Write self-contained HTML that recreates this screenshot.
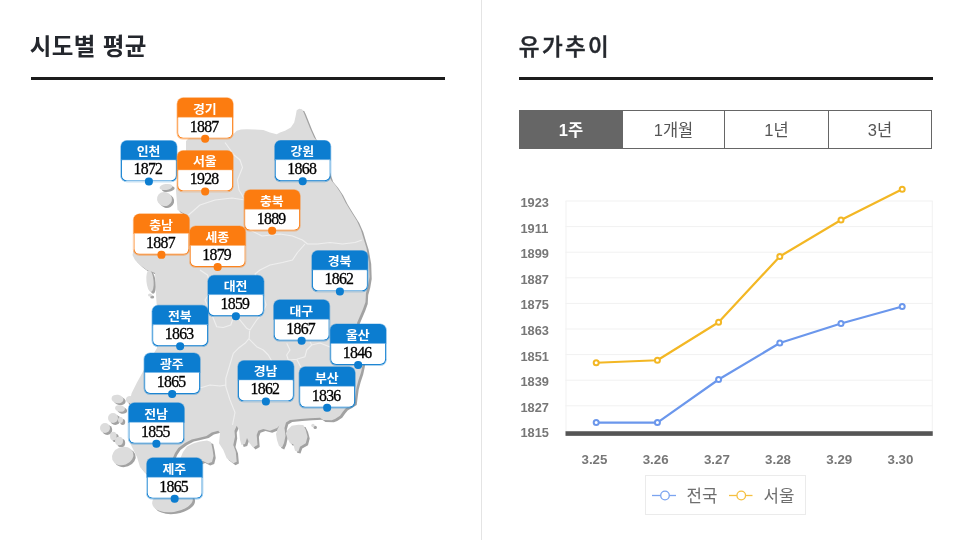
<!DOCTYPE html><html lang="ko"><head><meta charset="utf-8"><title>시도별 평균 / 유가추이</title><style>
*{margin:0;padding:0;box-sizing:border-box}
html,body{width:962px;height:540px;background:#fff;overflow:hidden}
body{position:relative;font-family:"Liberation Sans","Noto Sans CJK KR",sans-serif;color:#222}
.h{position:absolute;top:31px;font-size:23.5px;line-height:32px;color:#24272d;white-space:nowrap;letter-spacing:0.4px}
.h1{left:29.8px;font-weight:700}
.h2{left:518.8px;top:31.8px;font-weight:500;font-size:22.5px;letter-spacing:2.4px;-webkit-text-stroke:0.45px #24272d}
.ul{position:absolute;top:77px;height:3px;background:#1c1c1c}
.div{position:absolute;left:481px;top:0;width:1px;height:540px;background:#e4e4e4}
.tabs{position:absolute;left:519px;top:110px;width:413px;height:39px;border:1px solid #666;display:flex;background:#fff}
.tabs div{flex:0 0 auto;text-align:center;font-size:16.5px;line-height:39.4px;height:37px;color:#555;border-left:1px solid #666}
.tabs div:first-child{border-left:0;background:#666;color:#fff;font-weight:700}
.lb{position:absolute;left:0;top:0;width:56px;height:41px;border-radius:6px}
.lb .t{position:absolute;left:0;top:0;width:56px;height:19.5px;border-radius:6px 6px 0 0;color:#fff;font-weight:700;font-size:12.2px;line-height:20px;text-align:center}
.lb .t span{display:inline-block;transform:translate(-0.6px,1.85px) scaleX(1.06)}
.lb .n{position:absolute;left:0;top:19px;width:56px;height:22px;border-radius:0 0 6px 6px;border:1.6px solid;border-top:1px solid;background:#fff;color:#000;font-family:"Liberation Serif",serif;font-size:15.8px;line-height:18px;text-align:center;letter-spacing:-0.7px;-webkit-text-stroke:0.3px #000}
.lb .n span{display:inline-block;transform:translate(-1.0px,0.05px)}
.lb .d{position:absolute;left:24.3px;top:37.4px;width:7.4px;height:7.4px;border-radius:50%}
.o{box-shadow:0 0.3px 0 0.6px rgba(252,124,16,.45)}.b{box-shadow:0 0.3px 0 0.6px rgba(12,125,208,.45)}
.o .t,.o .d{background:#fc7c10}.o .n{border-color:#fdb77a #fc7c10 #fc7c10}
.b .t,.b .d{background:#0c7dd0}.b .n{border-color:#7db9e6 #0c7dd0 #0c7dd0}
svg{position:absolute;left:0;top:0}
svg text{font-family:"Liberation Sans","Noto Sans CJK KR",sans-serif}
</style></head><body>
<div class="h h1">시도별 평균</div><div class="ul" style="left:31px;width:414px"></div>
<div class="h h2">유가추이</div><div class="ul" style="left:519px;width:414px"></div>
<div class="div"></div>
<div class="tabs"><div style="width:102px">1주</div><div style="width:102px">1개월</div><div style="width:104px">1년</div><div style="width:103px">3년</div></div>
<svg width="962" height="540" viewBox="0 0 962 540"><g id="map"><g fill="#a2a2a2" transform="translate(2.2,1.9)"><polygon points="186,150 186,141 189,138 200,136 220,137 231,137 233.5,134 236.7,130.8 241,129.6 246.7,129.2 255,129.4 263.3,130 270,132.5 276.7,134.2 280,132.5 285,130.8 290.8,127.5 294.2,122.5 295.5,116.7 296.7,110.3 299.2,108.7 302,109.2 303.7,112.5 306.7,120 310,128.3 314.2,137.5 316.7,140.8 322,152 327,168 331,180 336,186 341,193.5 345.5,202.5 351,211.5 357,221 361,230 364,240 366.5,248 369,262 369.5,277 368,286 366,293 365.5,302 363,309 360,316 357,323 362,340 364,355 362.5,365.5 361,372.5 358.5,380 356.5,387.5 355.5,395 354.5,403 345.5,408.5 343,411.5 340,415.8 335,419 331.7,420.3 323.3,420 320,417.8 310,418.3 300,419 290,420 286,422.5 284.5,428 285.5,436 284,443 282,447.5 279,446 277,440 276,434 277.5,429 279.5,425.5 277,428 270,430.8 263.3,429 258.3,430.8 256.7,435 257.5,445 253.3,447.5 249.5,443.3 247,438 245,444 241.5,445 240,440 239,430 236.7,425.8 234.5,430.8 235,436.7 233.3,445 235.8,451.7 236.7,461.7 233.3,463.3 226.7,458.3 223.3,450 219,443.3 220,433.3 218.3,430.8 211.7,432.5 206.5,436 198.3,438 191.7,439.5 185,443 178.3,448 175,453 172,460 168,466 160,470 150,475 145,473 140,467 137,457 130,443 130,400 131.7,393 136.7,383 145,368 157,348 157,330 156.7,305 156,295 155,273 150,271 146.7,270 140,265 135,260 132.5,255 136,240 140,225 150,216 170,214 188,215.5 183,213 177.5,210 176.5,197 176,190 180,170"/><ellipse cx="166" cy="187" rx="6.5" ry="3" transform="rotate(-8 166 187)"/><ellipse cx="164.5" cy="199" rx="7.5" ry="7" transform="rotate(15 164.5 199)"/><ellipse cx="150" cy="281" rx="3.6" ry="11" transform="rotate(-5 150 281)"/><ellipse cx="150" cy="295" rx="2" ry="1.5" transform="rotate(0 150 295)"/><ellipse cx="117.5" cy="399" rx="6" ry="4.2" transform="rotate(10 117.5 399)"/><ellipse cx="130" cy="399.5" rx="4" ry="3.5" transform="rotate(0 130 399.5)"/><ellipse cx="120" cy="408.5" rx="5" ry="3.3" transform="rotate(10 120 408.5)"/><ellipse cx="113" cy="418" rx="5" ry="5" transform="rotate(0 113 418)"/><ellipse cx="120.5" cy="420" rx="2.5" ry="3" transform="rotate(0 120.5 420)"/><ellipse cx="105" cy="428" rx="5" ry="5" transform="rotate(0 105 428)"/><ellipse cx="113.3" cy="436" rx="3.3" ry="4.2" transform="rotate(0 113.3 436)"/><ellipse cx="119" cy="441" rx="4" ry="4.2" transform="rotate(0 119 441)"/><ellipse cx="122.7" cy="456" rx="11" ry="9" transform="rotate(-20 122.7 456)"/><ellipse cx="172.5" cy="501" rx="20.5" ry="11" transform="rotate(-8 172.5 501)"/><polygon points="183,452 187,446.5 193,443.5 200,441.5 207,440.5 211,442 212.5,449 213.5,456 212,462 208,463.5 203,461 198,463 185,465 180,459"/><polygon points="287.5,430 291.7,425.8 298.3,424.7 303.3,425 305.8,430 307.5,436.7 305.8,443.3 300,446.7 298.3,451.7 295,450.8 293.3,444.2 290,443.3 287.5,438.3 285.8,433.3"/><circle cx="313" cy="425.5" r="1.7"/></g><g fill="#dcdcdc"><polygon points="186,150 186,141 189,138 200,136 220,137 231,137 233.5,134 236.7,130.8 241,129.6 246.7,129.2 255,129.4 263.3,130 270,132.5 276.7,134.2 280,132.5 285,130.8 290.8,127.5 294.2,122.5 295.5,116.7 296.7,110.3 299.2,108.7 302,109.2 303.7,112.5 306.7,120 310,128.3 314.2,137.5 316.7,140.8 322,152 327,168 331,180 336,186 341,193.5 345.5,202.5 351,211.5 357,221 361,230 364,240 366.5,248 369,262 369.5,277 368,286 366,293 365.5,302 363,309 360,316 357,323 362,340 364,355 362.5,365.5 361,372.5 358.5,380 356.5,387.5 355.5,395 354.5,403 345.5,408.5 343,411.5 340,415.8 335,419 331.7,420.3 323.3,420 320,417.8 310,418.3 300,419 290,420 286,422.5 284.5,428 285.5,436 284,443 282,447.5 279,446 277,440 276,434 277.5,429 279.5,425.5 277,428 270,430.8 263.3,429 258.3,430.8 256.7,435 257.5,445 253.3,447.5 249.5,443.3 247,438 245,444 241.5,445 240,440 239,430 236.7,425.8 234.5,430.8 235,436.7 233.3,445 235.8,451.7 236.7,461.7 233.3,463.3 226.7,458.3 223.3,450 219,443.3 220,433.3 218.3,430.8 211.7,432.5 206.5,436 198.3,438 191.7,439.5 185,443 178.3,448 175,453 172,460 168,466 160,470 150,475 145,473 140,467 137,457 130,443 130,400 131.7,393 136.7,383 145,368 157,348 157,330 156.7,305 156,295 155,273 150,271 146.7,270 140,265 135,260 132.5,255 136,240 140,225 150,216 170,214 188,215.5 183,213 177.5,210 176.5,197 176,190 180,170"/><polygon points="183,452 187,446.5 193,443.5 200,441.5 207,440.5 211,442 212.5,449 213.5,456 212,462 208,463.5 203,461 198,463 185,465 180,459"/><polygon points="287.5,430 291.7,425.8 298.3,424.7 303.3,425 305.8,430 307.5,436.7 305.8,443.3 300,446.7 298.3,451.7 295,450.8 293.3,444.2 290,443.3 287.5,438.3 285.8,433.3"/><circle cx="313" cy="425.5" r="1.7"/><ellipse cx="166" cy="187" rx="6.5" ry="3" transform="rotate(-8 166 187)"/><ellipse cx="164.5" cy="199" rx="7.5" ry="7" transform="rotate(15 164.5 199)"/><ellipse cx="150" cy="281" rx="3.6" ry="11" transform="rotate(-5 150 281)"/><ellipse cx="150" cy="295" rx="2" ry="1.5" transform="rotate(0 150 295)"/><ellipse cx="117.5" cy="399" rx="6" ry="4.2" transform="rotate(10 117.5 399)"/><ellipse cx="130" cy="399.5" rx="4" ry="3.5" transform="rotate(0 130 399.5)"/><ellipse cx="120" cy="408.5" rx="5" ry="3.3" transform="rotate(10 120 408.5)"/><ellipse cx="113" cy="418" rx="5" ry="5" transform="rotate(0 113 418)"/><ellipse cx="120.5" cy="420" rx="2.5" ry="3" transform="rotate(0 120.5 420)"/><ellipse cx="105" cy="428" rx="5" ry="5" transform="rotate(0 105 428)"/><ellipse cx="113.3" cy="436" rx="3.3" ry="4.2" transform="rotate(0 113.3 436)"/><ellipse cx="119" cy="441" rx="4" ry="4.2" transform="rotate(0 119 441)"/><ellipse cx="122.7" cy="456" rx="11" ry="9" transform="rotate(-20 122.7 456)"/><ellipse cx="172.5" cy="501" rx="20.5" ry="11" transform="rotate(-8 172.5 501)"/></g><polyline points="225,142.5 234,155 240,160 242.5,167.5 237.5,180 239,190 245,200 250,215 250,230 262,236 280,234 292.5,236 302.5,240 307.5,244 317.5,244 330,242.5 342.5,244 355,242.5 362,240" fill="none" stroke="#efefef" stroke-width="1.1" stroke-linejoin="round"/><polyline points="305,244 297.5,252.5 292.5,260 282.5,262.5 270,265 260,270 255,274 262,290 266,305 262,314 256.7,320 253.3,325 250,330 246.7,328.3 240,320 236,316" fill="none" stroke="#efefef" stroke-width="1.1" stroke-linejoin="round"/><polyline points="213.3,318.3 216.7,326.7 223.3,327.5 230.8,325 232.5,320 236,316" fill="none" stroke="#efefef" stroke-width="1.1" stroke-linejoin="round"/><polyline points="249.6,330.8 249.2,338.3 245,343.3 238.3,348.3 233.3,353.3 230.8,361.7 228.3,370 225.8,378.3 225.8,386.7 230,400 235,412.5 232.5,425" fill="none" stroke="#efefef" stroke-width="1.1" stroke-linejoin="round"/><polyline points="157,388 175,392 197.5,388.75 210,385 220,386 226,385" fill="none" stroke="#efefef" stroke-width="1.1" stroke-linejoin="round"/><polyline points="249.2,339.2 256.7,346.7 263.3,350 268.3,355 271.7,361" fill="none" stroke="#efefef" stroke-width="1.1" stroke-linejoin="round"/><polyline points="286.7,343.3 290,350 286.7,355 288.3,360 296.7,359.2 305,356.7 306.7,350 311.7,345 310,341.7" fill="none" stroke="#efefef" stroke-width="1.1" stroke-linejoin="round"/><polyline points="296.7,359.2 300.8,367" fill="none" stroke="#efefef" stroke-width="1.1" stroke-linejoin="round"/><polyline points="311.7,345 320,343 330,347" fill="none" stroke="#efefef" stroke-width="1.1" stroke-linejoin="round"/><polyline points="200,270 207.5,275 212,290 205,300 213.3,318.3" fill="none" stroke="#efefef" stroke-width="1.1" stroke-linejoin="round"/><polyline points="188,215.5 200,205 215,200 232,198 245,200" fill="none" stroke="#efefef" stroke-width="1.1" stroke-linejoin="round"/></g><line x1="565.5" x2="932.75" y1="201.00" y2="201.00" stroke="#f1f1f1" stroke-width="1"/><line x1="565.5" x2="932.75" y1="226.60" y2="226.60" stroke="#f1f1f1" stroke-width="1"/><line x1="565.5" x2="932.75" y1="252.20" y2="252.20" stroke="#f1f1f1" stroke-width="1"/><line x1="565.5" x2="932.75" y1="277.80" y2="277.80" stroke="#f1f1f1" stroke-width="1"/><line x1="565.5" x2="932.75" y1="303.40" y2="303.40" stroke="#f1f1f1" stroke-width="1"/><line x1="565.5" x2="932.75" y1="329.00" y2="329.00" stroke="#f1f1f1" stroke-width="1"/><line x1="565.5" x2="932.75" y1="354.60" y2="354.60" stroke="#f1f1f1" stroke-width="1"/><line x1="565.5" x2="932.75" y1="380.20" y2="380.20" stroke="#f1f1f1" stroke-width="1"/><line x1="565.5" x2="932.75" y1="405.80" y2="405.80" stroke="#f1f1f1" stroke-width="1"/><line x1="565.5" x2="932.75" y1="431.40" y2="431.40" stroke="#f1f1f1" stroke-width="1"/><line x1="566.0" x2="566.0" y1="201.0" y2="432" stroke="#f1f1f1" stroke-width="1"/><line x1="932.25" x2="932.25" y1="201.0" y2="432" stroke="#f1f1f1" stroke-width="1"/><text x="520.5" y="207.00" font-size="12.8" font-weight="700" fill="#777">1923</text><text x="520.5" y="232.60" font-size="12.8" font-weight="700" fill="#777">1911</text><text x="520.5" y="258.20" font-size="12.8" font-weight="700" fill="#777">1899</text><text x="520.5" y="283.80" font-size="12.8" font-weight="700" fill="#777">1887</text><text x="520.5" y="309.40" font-size="12.8" font-weight="700" fill="#777">1875</text><text x="520.5" y="335.00" font-size="12.8" font-weight="700" fill="#777">1863</text><text x="520.5" y="360.60" font-size="12.8" font-weight="700" fill="#777">1851</text><text x="520.5" y="386.20" font-size="12.8" font-weight="700" fill="#777">1839</text><text x="520.5" y="411.80" font-size="12.8" font-weight="700" fill="#777">1827</text><text x="520.5" y="437.40" font-size="12.8" font-weight="700" fill="#777">1815</text><text x="594.45" y="464.3" font-size="13.3" font-weight="700" fill="#777" text-anchor="middle">3.25</text><text x="655.65" y="464.3" font-size="13.3" font-weight="700" fill="#777" text-anchor="middle">3.26</text><text x="716.85" y="464.3" font-size="13.3" font-weight="700" fill="#777" text-anchor="middle">3.27</text><text x="778.05" y="464.3" font-size="13.3" font-weight="700" fill="#777" text-anchor="middle">3.28</text><text x="839.25" y="464.3" font-size="13.3" font-weight="700" fill="#777" text-anchor="middle">3.29</text><text x="900.45" y="464.3" font-size="13.3" font-weight="700" fill="#777" text-anchor="middle">3.30</text><polyline points="596.20,422.6 657.40,422.6 718.60,379.5 779.80,343 841.00,323.5 902.20,306.5" fill="none" stroke="#6b97ec" stroke-width="2.2" stroke-linejoin="round"/><circle cx="596.20" cy="422.6" r="2.5" fill="#fff" stroke="#6b97ec" stroke-width="2"/><circle cx="657.40" cy="422.6" r="2.5" fill="#fff" stroke="#6b97ec" stroke-width="2"/><circle cx="718.60" cy="379.5" r="2.5" fill="#fff" stroke="#6b97ec" stroke-width="2"/><circle cx="779.80" cy="343" r="2.5" fill="#fff" stroke="#6b97ec" stroke-width="2"/><circle cx="841.00" cy="323.5" r="2.5" fill="#fff" stroke="#6b97ec" stroke-width="2"/><circle cx="902.20" cy="306.5" r="2.5" fill="#fff" stroke="#6b97ec" stroke-width="2"/><polyline points="596.20,362.75 657.40,360.25 718.60,322.25 779.80,256.5 841.00,220 902.20,189.25" fill="none" stroke="#f3b724" stroke-width="2.2" stroke-linejoin="round"/><circle cx="596.20" cy="362.75" r="2.5" fill="#fff" stroke="#f3b724" stroke-width="2"/><circle cx="657.40" cy="360.25" r="2.5" fill="#fff" stroke="#f3b724" stroke-width="2"/><circle cx="718.60" cy="322.25" r="2.5" fill="#fff" stroke="#f3b724" stroke-width="2"/><circle cx="779.80" cy="256.5" r="2.5" fill="#fff" stroke="#f3b724" stroke-width="2"/><circle cx="841.00" cy="220" r="2.5" fill="#fff" stroke="#f3b724" stroke-width="2"/><circle cx="902.20" cy="189.25" r="2.5" fill="#fff" stroke="#f3b724" stroke-width="2"/><rect x="565.5" y="431.25" width="367.25" height="4.6" fill="#555"/><rect x="645.5" y="475.5" width="160" height="39" fill="#fff" stroke="#ebebeb" stroke-width="1"/><line x1="652" x2="676" y1="495.5" y2="495.5" stroke="#7ba4f0" stroke-width="1.3"/><circle cx="665" cy="495.5" r="4.3" fill="#fff" stroke="#7ba4f0" stroke-width="1.3"/><text x="686.5" y="501.5" font-size="16.8" fill="#6e6e6e">전국</text><line x1="729" x2="752.5" y1="495.5" y2="495.5" stroke="#f5c040" stroke-width="1.3"/><circle cx="741.25" cy="495.5" r="4.3" fill="#fff" stroke="#f5c040" stroke-width="1.3"/><text x="763.5" y="501.5" font-size="16.8" fill="#6e6e6e">서울</text></svg>
<div class="lb o" style="transform:translate(177.15px,97.67px)"><div class="t"><span>경기</span></div><div class="n"><span>1887</span></div><div class="d"></div></div>
<div class="lb b" style="transform:translate(120.9px,140.4px)"><div class="t"><span>인천</span></div><div class="n"><span>1872</span></div><div class="d"></div></div>
<div class="lb o" style="transform:translate(177.15px,150.42px)"><div class="t"><span>서울</span></div><div class="n"><span>1928</span></div><div class="d"></div></div>
<div class="lb b" style="transform:translate(274.7px,140.3px)"><div class="t"><span>강원</span></div><div class="n"><span>1868</span></div><div class="d"></div></div>
<div class="lb o" style="transform:translate(244.15px,189.67px)"><div class="t"><span>충북</span></div><div class="n"><span>1889</span></div><div class="d"></div></div>
<div class="lb o" style="transform:translate(133.45px,213.85px)"><div class="t"><span>충남</span></div><div class="n"><span>1887</span></div><div class="d"></div></div>
<div class="lb o" style="transform:translate(189.65px,225.92px)"><div class="t"><span>세종</span></div><div class="n"><span>1879</span></div><div class="d"></div></div>
<div class="lb b" style="transform:translate(207.9px,275.17px)"><div class="t"><span>대전</span></div><div class="n"><span>1859</span></div><div class="d"></div></div>
<div class="lb b" style="transform:translate(152.15px,305.17px)"><div class="t"><span>전북</span></div><div class="n"><span>1863</span></div><div class="d"></div></div>
<div class="lb b" style="transform:translate(311.9px,250.42px)"><div class="t"><span>경북</span></div><div class="n"><span>1862</span></div><div class="d"></div></div>
<div class="lb b" style="transform:translate(273.65px,299.67px)"><div class="t"><span>대구</span></div><div class="n"><span>1867</span></div><div class="d"></div></div>
<div class="lb b" style="transform:translate(330.15px,323.92px)"><div class="t"><span>울산</span></div><div class="n"><span>1846</span></div><div class="d"></div></div>
<div class="lb b" style="transform:translate(299.15px,366.67px)"><div class="t"><span>부산</span></div><div class="n"><span>1836</span></div><div class="d"></div></div>
<div class="lb b" style="transform:translate(237.9px,360.42px)"><div class="t"><span>경남</span></div><div class="n"><span>1862</span></div><div class="d"></div></div>
<div class="lb b" style="transform:translate(144.15px,352.92px)"><div class="t"><span>광주</span></div><div class="n"><span>1865</span></div><div class="d"></div></div>
<div class="lb b" style="transform:translate(128.4px,402.67px)"><div class="t"><span>전남</span></div><div class="n"><span>1855</span></div><div class="d"></div></div>
<div class="lb b" style="transform:translate(146.65px,457.67px)"><div class="t"><span>제주</span></div><div class="n"><span>1865</span></div><div class="d"></div></div>
</body></html>
